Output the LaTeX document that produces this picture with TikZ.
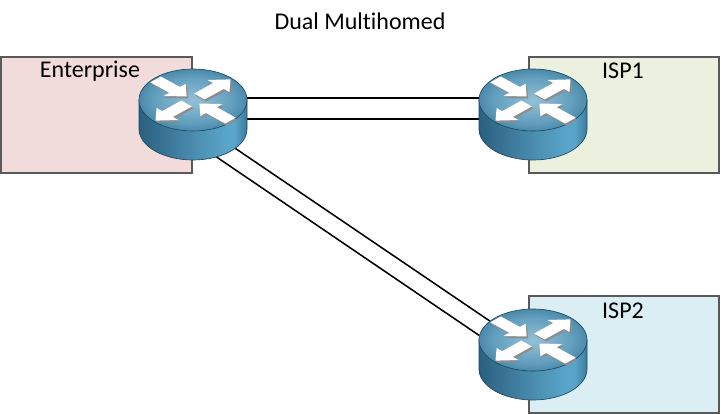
\documentclass[tikz,border=0pt]{standalone}
\usepackage{fontspec}
\setmainfont{Carlito}[Ligatures=NoCommon]
\usetikzlibrary{positioning}
\definecolor{entfill}{HTML}{F2DCDB}
\definecolor{ispafill}{HTML}{EBF1DE}
\definecolor{ispbfill}{HTML}{DBEEF4}
\definecolor{routeredge}{HTML}{1D4A64}
\definecolor{sidedark}{HTML}{2A5F7F}
\definecolor{sidemid}{HTML}{4A8CAE}
\definecolor{sidelight}{HTML}{5AA6CA}
\definecolor{sideend}{HTML}{3A7A9B}
\definecolor{topcentre}{HTML}{94C0D6}
\definecolor{topmid}{HTML}{639FBE}
\definecolor{topouter}{HTML}{377596}
\pgfdeclarehorizontalshading{routerside}{100bp}{color(0bp)=(sidedark); color(25bp)=(sidedark); color(50bp)=(sidemid); color(66bp)=(sidelight); color(69bp)=(sidelight); color(75bp)=(sideend); color(100bp)=(sideend)}
\pgfdeclareradialshading{routertop}{\pgfpoint{0bp}{0bp}}{color(0bp)=(topcentre); color(18bp)=(topmid); color(32bp)=(topouter); color(50bp)=(topouter)}
\begin{document}
\begin{tikzpicture}[
    x=0.75pt, y=-0.75pt,
    box/.style={draw=black!65, line width=0.85pt, inner sep=0pt},
    lbl/.style={font=\fontsize{18}{21}\selectfont, inner sep=0pt},
    link/.style={line width=1.15pt, draw=black},
    router/.pic={
        \draw[routeredge, line width=0.5pt, shading=routerside] (-54,-15) -- (-54,14) arc (180:0:54 and 31) -- (54,-15) -- cycle;
        \draw[routeredge, line width=0.5pt, shading=routertop] (0,-15) ellipse (54 and 31);
        \foreach \ang/\dir in {45/-1, 135/1, 225/-1, 315/1} {
            \begin{scope}[shift={(1.5,-13)}, yscale=0.55, rotate=-\ang, shift={(31,0)}, xscale=\dir]
                \fill[black!45] (-22,-7.5) -- (5,-7.5) -- (5,-15.5) -- (22,0) -- (5,15.5) -- (5,7.5) -- (-22,7.5) -- cycle;
            \end{scope}
            \begin{scope}[shift={(0,-15)}, yscale=0.55, rotate=-\ang, shift={(31,0)}, xscale=\dir]
                \fill[white] (-22,-7.5) -- (5,-7.5) -- (5,-15.5) -- (22,0) -- (5,15.5) -- (5,7.5) -- (-22,7.5) -- cycle;
            \end{scope}
        }
    }
]
\useasboundingbox (0,0) rectangle (721,414);
\node[box, fill=entfill, minimum width=143.25pt, minimum height=87pt] (entbox) at (96.5,115) {};
\node[box, fill=ispafill, minimum width=142.5pt, minimum height=87pt] (ispabox) at (624,115) {};
\node[box, fill=ispbfill, minimum width=142.5pt, minimum height=87.75pt] (ispbbox) at (624,354.5) {};
\node[lbl] (title) at (360,21) {Dual Multihomed};
\node[lbl] (entlabel) at (90,71) {Enterprise};
\node[lbl] (ispalabel) at (623,71) {ISP1};
\node[lbl] (ispblabel) at (623,311) {ISP2};
\coordinate (enterprise) at (193,115);
\coordinate (ispa) at (533,115);
\coordinate (ispb) at (533,355);
% two links per pair
\draw[link] ([yshift=12.75pt]enterprise) -- ([yshift=12.75pt]ispa);
\draw[link] ([yshift=-3pt]enterprise) -- ([yshift=-3pt]ispa);
\draw[link] ([yshift=-3.5pt]enterprise) -- ([yshift=3.5pt]ispb);
\draw[link] ([yshift=-19.5pt]enterprise) -- ([yshift=-12.75pt]ispb);
\pic at (enterprise) {router};
\pic at (ispa) {router};
\pic at (ispb) {router};
\end{tikzpicture}
\end{document}
